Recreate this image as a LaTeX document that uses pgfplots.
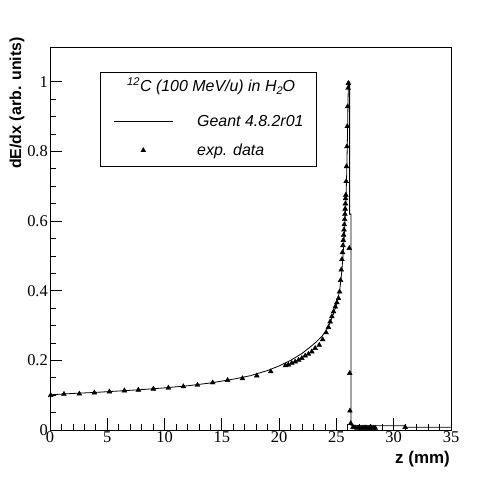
\documentclass[border=0pt]{standalone}
\usepackage{fontspec}
\setmainfont{Liberation Serif}
\newfontfamily\helv{Liberation Sans}
\usepackage{pgfplots}
\pgfplotsset{compat=1.18}
\begin{document}
\begin{tikzpicture}
\begin{axis}[
  at={(0,0)}, anchor=south west,
  width=401bp, height=383bp, scale only axis,
  xmin=0, xmax=35, ymin=0, ymax=1.1,
  xtick={0,5,10,15,20,25,30,35},
  ytick={0,0.2,0.4,0.6,0.8,1},
  minor x tick num=4, minor y tick num=3,
  tick align=inside, tick pos=left,
  major tick length=12bp, minor tick length=6bp,
  every tick/.style={black, line width=0.8bp},
  axis line style={black, line width=0.8bp},
  /pgf/number format/assume math mode=true,
  ticklabel style={font=\rmfamily\fontsize{16.5}{16.5}\selectfont, inner sep=1.5bp},
  yticklabel style={/pgf/number format/fixed, xshift=-0.5bp},
  xlabel={\helv\bfseries z (mm)},
  ylabel={\helv\bfseries dE/dx (arb. units)},
  xlabel style={at={(rel axis cs:1,0)}, anchor=base east, inner sep=0pt, yshift=-34bp, xshift=-1bp, font=\fontsize{17}{17}\selectfont},
  ylabel style={at={(rel axis cs:-0.0723,1.0261)}, anchor=base east, inner sep=0pt, font=\fontsize{16}{16}\selectfont},
  legend style={at={(rel axis cs:0.12469,0.93473)}, anchor=north west, draw=black, line width=0.8bp,
    font=\helv\itshape\fontsize{16}{16}\selectfont,
    inner xsep=13bp, inner ysep=7bp, row sep=13.5bp, column sep=24bp,
    nodes={inner sep=0pt, text height=12bp, text depth=4bp}},
  legend cell align=left,
]
\addlegendimage{empty legend}
\addlegendentry[text depth=9.5bp]{\hspace*{-70bp}\textsuperscript{12}C (100 MeV/u) in H\raisebox{-3bp}{\fontsize{11}{11}\selectfont 2}O\hspace*{4bp}}

\addplot[black, line width=0.8bp, no marks,
  legend image code/.code={\draw[black, line width=0.8bp] (0bp,1bp) -- (59bp,1bp);}]
coordinates {
(0,0.101) (2,0.105) (4,0.108) (6,0.112) (8,0.116) (10,0.121) (12,0.127)
(14,0.135) (16,0.146) (17.5,0.156) (19,0.171) (20,0.184) (21,0.200)
(22,0.220) (22.7,0.238) (23.2,0.252) (23.7,0.268) (24.1,0.285) (24.4,0.305)
(24.7,0.33) (24.95,0.355) (25.15,0.38) (25.3,0.405) (25.45,0.45) (25.55,0.49)
(25.65,0.54) (25.75,0.60) (25.83,0.66) (25.9,0.74) (25.96,0.84) (26.02,0.96)
(26.05,1.0) (26.15,1.0) (26.15,0.62) (26.28,0.62) (26.28,0.012)
(31,0.012) (31,0.008) (35,0.008)
};
\addlegendentry{Geant 4.8.2r01}

\addplot[black, only marks, mark=triangle*, mark size=2.8bp, mark options={fill=black, line width=0.4bp},
  legend image code/.code={\draw[black, fill=black, line width=0.4bp, mark=triangle*, mark size=2.8bp, only marks] plot coordinates {(29.5bp,1.5bp)};}]
coordinates {
(0.06,0.100) (1.22,0.103) (2.56,0.104) (3.87,0.107) (5.18,0.110) (6.49,0.113)
(7.71,0.115) (9.02,0.118) (10.33,0.121) (11.64,0.125) (12.87,0.129) (14.20,0.136)
(15.50,0.143) (16.80,0.148) (18.05,0.156) (19.27,0.168)
(20.55,0.185) (20.80,0.187) (21.10,0.192) (21.40,0.196) (21.70,0.201) (21.98,0.206)
(22.27,0.213) (22.56,0.218) (22.85,0.225) (23.14,0.235) (23.50,0.244) (23.80,0.260)
(24.10,0.280) (24.30,0.295) (24.45,0.311) (24.60,0.326) (24.75,0.340) (24.90,0.354)
(25.04,0.366) (25.18,0.378) (25.27,0.397) (25.36,0.43) (25.42,0.46) (25.48,0.49)
(25.53,0.51) (25.57,0.53) (25.60,0.545) (25.63,0.56) (25.66,0.575) (25.69,0.59)
(25.72,0.605) (25.74,0.62) (25.76,0.635) (25.78,0.65) (25.80,0.665) (25.82,0.675)
(25.85,0.714) (25.88,0.757) (25.92,0.814) (25.95,0.872) (25.98,0.929) (26.02,0.982)
(26.04,0.996) (26.12,0.522) (26.16,0.163) (26.18,0.055) (26.25,0.019)
(26.45,0.008) (26.62,0.007) (26.80,0.006) (26.97,0.007) (27.15,0.006) (27.32,0.006)
(27.50,0.007) (27.67,0.006) (27.85,0.006) (28.02,0.007) (28.20,0.006) (28.38,0.006)
(31.0,0.008)
};
\addlegendentry{exp. data}
\end{axis}
\pgfresetboundingbox
\path (-50bp,-48bp) rectangle (452bp,430bp);
\end{tikzpicture}
\end{document}
